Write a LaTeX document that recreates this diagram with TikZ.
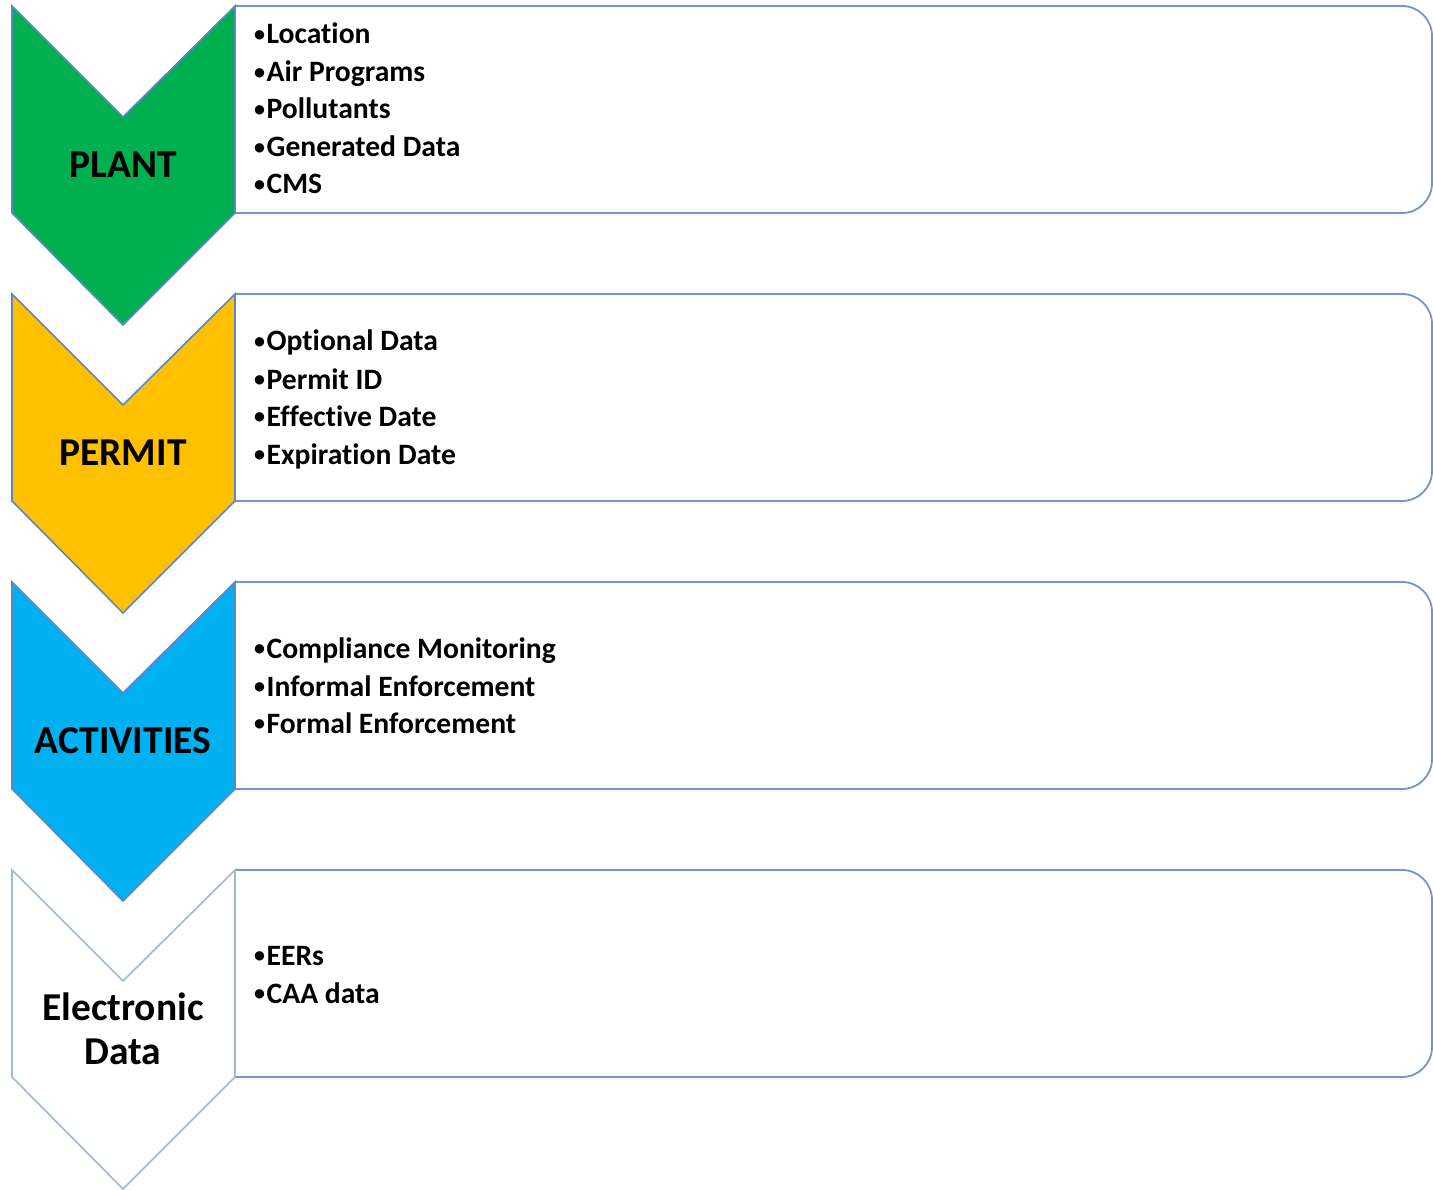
\documentclass[tikz,border=0pt]{standalone}
\usepackage{fontspec}
\setmainfont{Carlito}[Ligatures=NoCommon]
\definecolor{cgreen}{HTML}{00B050}
\definecolor{cyellow}{HTML}{FFC000}
\definecolor{cblue}{HTML}{00B0F0}
\definecolor{edgeblue}{HTML}{5B87C5}
\definecolor{boxblue}{HTML}{7196CF}
\definecolor{lightedge}{HTML}{9DB7DD}
\newcommand\bulmark{\raisebox{2.6pt}{\fontsize{22}{22}\selectfont •}\hspace{1.5pt}}
\tikzset{
  chev/.style={draw=edgeblue, line width=1.6pt, line join=miter},
  boxline/.style={draw=boxblue, line width=1.8pt, rounded corners=30pt},
  label/.style={font=\bfseries\fontsize{39.5}{44}\selectfont, align=center, text=black},
  item/.style={font=\bfseries\fontsize{29.6}{37}\selectfont, anchor=base west, inner sep=0pt, text=black}
}
\begin{document}
\begin{tikzpicture}[x=1pt,y=-1pt]
\useasboundingbox (0,0) rectangle (1433,1190);
% rows at offsets 0, 288, 576, 864
\foreach \o/\fc/\ec in {0/cgreen/edgeblue, 288/cyellow/edgeblue, 576/cblue/edgeblue, 864/white/lightedge}{
  \fill[white] (235,6+\o) -- (1432,6+\o) -- (1432,213+\o) -- (235,213+\o) -- cycle;
  \draw[boxline] (235,6+\o) -- (1432,6+\o) -- (1432,213+\o) -- (235,213+\o);
  \draw[chev, draw=\ec, fill=\fc] (12,6+\o) -- (123,117+\o) -- (235,6+\o) -- (235,213+\o) -- (123,325+\o) -- (12,213+\o) -- cycle;
}
\node[label] (plant) at (123,165) {PLANT};
\node[label] (permit) at (123,453) {PERMIT};
\node[label] (activities) at (123,741) {ACTIVITIES};
\node[label] (edata) at (123,1029) {Electronic\\Data};

\node[item] (p1) at (254,44) {\bulmark Location};
\node[item] (p2) at (254,82) {\bulmark Air Programs};
\node[item] (p3) at (254,119) {\bulmark Pollutants};
\node[item] (p4) at (254,157) {\bulmark Generated Data};
\node[item] (p5) at (254,194) {\bulmark CMS};

\node[item] (q1) at (254,351) {\bulmark Optional Data};
\node[item] (q2) at (254,389) {\bulmark Permit ID};
\node[item] (q3) at (254,426) {\bulmark Effective Date};
\node[item] (q4) at (254,464) {\bulmark Expiration Date};

\node[item] (a1) at (254,658) {\bulmark Compliance Monitoring};
\node[item] (a2) at (254,696) {\bulmark Informal Enforcement};
\node[item] (a3) at (254,733) {\bulmark Formal Enforcement};

\node[item] (e1) at (254,965) {\bulmark EERs};
\node[item] (e2) at (254,1003) {\bulmark CAA data};
\end{tikzpicture}
\end{document}
